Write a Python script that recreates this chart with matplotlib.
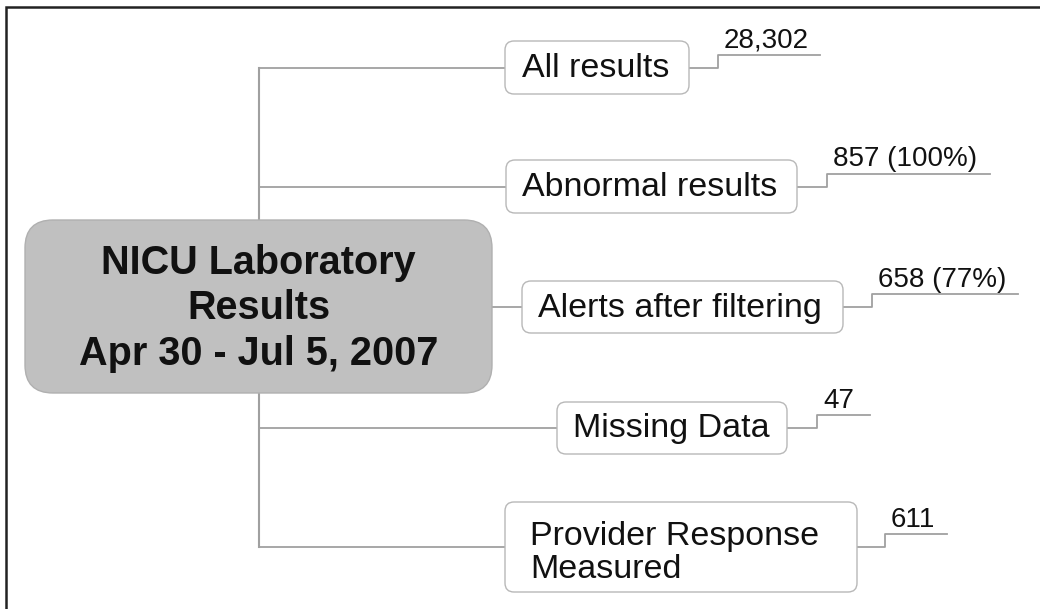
import matplotlib.pyplot as plt
from matplotlib.patches import FancyBboxPatch

# chart content
center_title = "NICU Laboratory\nResults\nApr 30 - Jul 5, 2007"
node_labels = ["All results", "Abnormal results", "Alerts after filtering",
               "Missing Data", "Provider Response\nMeasured"]
node_values = ["28,302", "857 (100%)", "658 (77%)", "47", "611"]

# layout in pixels: (left, top, right, bottom) of each node box
node_boxes = [(505, 41, 689, 94), (506, 160, 797, 213), (522, 281, 843, 333),
              (557, 402, 787, 454), (505, 502, 857, 592)]
text_pad = [17, 16, 16, 16, 25]
text_shift = [1, 1, 1, 1, 6]
leader_step = [29, 30, 29, 30, 28]
underline_len = [102, 163, 146, 53, 62]

W, H = 1040, 609
fig = plt.figure(figsize=(W / 100, H / 100), dpi=100)
ax = fig.add_axes([0, 0, 1, 1])
ax.set_xlim(0, W)
ax.set_ylim(H, 0)
ax.axis("off")

font = "Liberation Sans"
line_col = "#a0a0a0"

# frame (top and left edges only are visible)
ax.plot([6, 6, W], [H, 7, 7], color="#222222", lw=1.8, solid_joinstyle="miter")

# trunk and branches
trunk_x = 259
mids = [(b[1] + b[3]) / 2 for b in node_boxes]
ax.plot([trunk_x, trunk_x], [mids[0], mids[-1]], color=line_col, lw=1.5, zorder=1)
for i, (b, m) in enumerate(zip(node_boxes, mids)):
    x0 = 492 if i == 2 else trunk_x
    ax.plot([x0, b[0]], [m, m], color=line_col, lw=1.3, zorder=1)

# central box
cx0, cy0, cx1, cy1 = 25, 220, 492, 393
ax.add_patch(FancyBboxPatch((cx0, cy0), cx1 - cx0, cy1 - cy0,
                            boxstyle="round,pad=0,rounding_size=28",
                            facecolor="#c0c0c0", edgecolor="#b0b0b0", lw=1, zorder=2))
for line, y in zip(center_title.split("\n"), [263, 308, 354]):
    ax.text((cx0 + cx1) / 2, y, line, ha="center", va="center", fontsize=28.5,
            fontweight="bold", family=font, color="#111111", zorder=3)

# nodes with values
for i, (b, m) in enumerate(zip(node_boxes, mids)):
    l, t, r, btm = b
    ax.add_patch(FancyBboxPatch((l, t), r - l, btm - t,
                                boxstyle="round,pad=0,rounding_size=9",
                                facecolor="white", edgecolor="#b8b8b8", lw=1, zorder=2))
    ax.text(l + text_pad[i], m + text_shift[i], node_labels[i], ha="left", va="center",
            fontsize=24.5, family=font, color="#111111", linespacing=1.05, zorder=3)
    sx = r + leader_step[i]
    uy = m - 13
    ax.plot([r, sx, sx, sx + underline_len[i]], [m, m, uy, uy],
            color=line_col, lw=1.3, zorder=1)
    ax.text(sx + 6, uy - 1, node_values[i], ha="left", va="bottom",
            fontsize=20, family=font, color="#111111", zorder=3)

fig.savefig("out.png", dpi=100, facecolor="white")
